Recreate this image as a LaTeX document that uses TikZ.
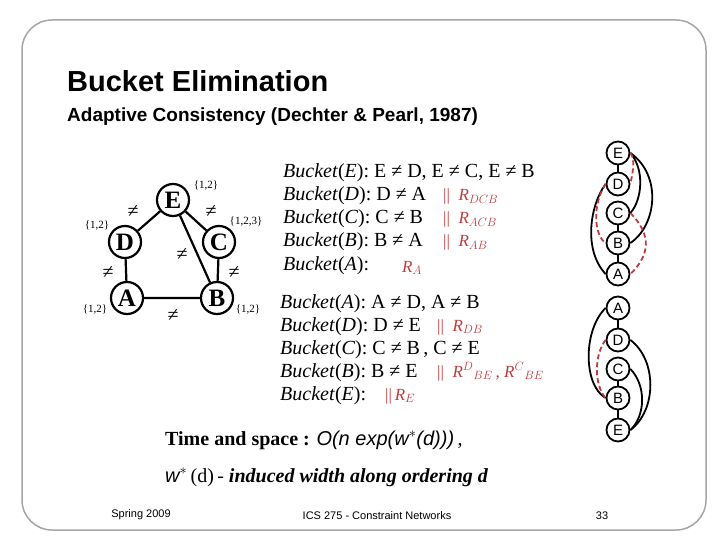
\documentclass[tikz,border=0pt]{standalone}
\usepackage{fontspec}
\setmainfont{Liberation Serif}
\setsansfont{Liberation Sans}
\definecolor{rd}{RGB}{190,60,60}
\newcommand{\bkt}[1]{\textit{Bucket}(\textit{#1}):\ }
\begin{document}
\begin{tikzpicture}[x=1pt,y=-1pt,
  gn/.style={circle,draw,line width=2.2pt,minimum size=32pt,inner sep=0pt,font=\fontsize{25}{25}\selectfont\bfseries},
  cn/.style={circle,draw,line width=1.8pt,minimum size=23pt,inner sep=0pt,font=\sffamily\fontsize{15}{15}\selectfont},
  dom/.style={font=\fontsize{11}{11}\selectfont},
  bk/.style={anchor=base west,font=\fontsize{20}{20}\selectfont,inner sep=0pt},
  rt/.style={anchor=base west,font=\fontsize{17}{17}\selectfont,text=rd,inner sep=0pt},
  ge/.style={line width=2.2pt},
  ce/.style={line width=1.8pt},
  de/.style={line width=1.8pt,rd,dash pattern=on 5pt off 3pt},
  ne/.style={font=\fontsize{20}{20}\selectfont,inner sep=0pt},
  ft/.style={font=\sffamily\fontsize{11}{11}\selectfont}]
\useasboundingbox (0,0) rectangle (720,540);
\draw[gray!70,line width=1.5pt,rounded corners=30pt] (22,20) rectangle (706,530);
\node[anchor=base west,font=\sffamily\bfseries\fontsize{29}{29}\selectfont,inner sep=0pt] (t1) at (67,92) {Bucket Elimination};
\node[anchor=base west,font=\sffamily\bfseries\fontsize{19}{19}\selectfont,inner sep=0pt] (t2) at (67,122) {Adaptive Consistency (Dechter \& Pearl, 1987)};
% graph
\node[gn] (E) at (173,200) {E};
\node[gn] (D) at (125,242) {D};
\node[gn] (C) at (219,242) {C};
\node[gn] (A) at (127,298) {A};
\node[gn] (B) at (217,298) {B};
\draw[ge] (E)--(D) (E)--(C) (E)--(B) (D)--(A) (C)--(B) (A)--(B);
\node[dom] (dE) at (206,186) {\{1,2\}};
\node[dom] (dD) at (97,226) {\{1,2\}};
\node[dom] (dC) at (246,222) {\{1,2,3\}};
\node[dom] (dA) at (95,310) {\{1,2\}};
\node[dom] (dB) at (248,310) {\{1,2\}};
\node[ne] (n1) at (133,212) {≠};
\node[ne] (n2) at (211,212) {≠};
\node[ne] (n3) at (182,255) {≠};
\node[ne] (n4) at (108,273) {≠};
\node[ne] (n5) at (234,273) {≠};
\node[ne] (n6) at (173,316) {≠};
% bucket block 1
\node[bk] (b1) at (283,178) {\bkt{E}E ≠ D,\ E ≠ C,\ E ≠ B};
\node[bk] (b2) at (283,201) {\bkt{D}D ≠ A};
\node[bk] (b3) at (283,224) {\bkt{C}C ≠ B};
\node[bk] (b4) at (283,247) {\bkt{B}B ≠ A};
\node[bk] (b5) at (283,270) {\bkt{A}};
\node[rt] (r2) at (443,201) {||\ \ \textit{R$_{DCB}$}};
\node[rt] (r3) at (443,224) {||\ \ \textit{R$_{ACB}$}};
\node[rt] (r4) at (443,247) {||\ \ \textit{R$_{AB}$}};
\node[rt] (r5) at (402,272) {\textit{R$_{A}$}};
% bucket block 2
\node[bk] (c1) at (280,308) {\bkt{A}A ≠ D,\ A ≠ B};
\node[bk] (c2) at (280,331) {\bkt{D}D ≠ E};
\node[bk] (c3) at (280,354) {\bkt{C}C ≠ B\,,\ C ≠ E};
\node[bk] (c4) at (280,377) {\bkt{B}B ≠ E};
\node[bk] (c5) at (280,400) {\bkt{E}};
\node[rt] (s2) at (437,331) {||\ \ \textit{R$_{DB}$}};
\node[rt] (s4) at (437,377) {||\ \ \textit{R$^{D}{}_{BE}$\,, R$^{C}{}_{BE}$}};
\node[rt] (s5) at (385,400) {||\,\textit{R$_{E}$}};
% bottom text
\node[anchor=base west,inner sep=0pt,font=\fontsize{20}{20}\selectfont] (ts) at (165,445) {\textbf{Time and space :} {\sffamily\itshape O(n exp(w$^{*}$(d)))}\,,};
\node[anchor=base west,inner sep=0pt,font=\fontsize{20}{20}\selectfont] (wd) at (165,482) {{\sffamily\itshape w$^{*}$}\,(d)\,-\ \textbf{\itshape induced width along ordering d}};
% chain 1
\node[cn] (uE) at (618,153) {E};
\node[cn] (uD) at (618,184) {D};
\node[cn] (uC) at (618,213) {C};
\node[cn] (uB) at (618,243) {B};
\node[cn] (uA) at (618,274) {A};
\draw[ce] (uE)--(uD) (uC)--(uB) (uB)--(uA);
\draw[ce] (uE.east) .. controls (645,170) and (642,200) .. (uC.east);
\draw[ce] (uE.east) .. controls (662,175) and (657,225) .. (uB.east);
\draw[ce] (uD.west) .. controls (590,205) and (583,250) .. (uA.west);
\draw[de] (uE.east) .. controls (636,160) and (632,175) .. (uD.east);
\draw[de] (uD.west) .. controls (592,205) and (594,235) .. (uB.west);
\draw[de] (uC.east) .. controls (652,235) and (650,255) .. (uA.east);
% chain 2
\node[cn] (vA) at (618,308) {A};
\node[cn] (vD) at (618,340) {D};
\node[cn] (vC) at (618,369) {C};
\node[cn] (vB) at (618,398) {B};
\node[cn] (vE) at (618,430) {E};
\draw[ce] (vA)--(vD) (vC)--(vB) (vB)--(vE);
\draw[ce] (vA.west) .. controls (583,330) and (583,385) .. (vB.west);
\draw[ce] (vD.east) .. controls (657,360) and (657,410) .. (vE.east);
\draw[ce] (vC.east) .. controls (646,385) and (646,415) .. (vE.east);
\draw[de] (vD.west) .. controls (594,355) and (594,385) .. (vB.west);
% footer
\node[ft] (f1) at (141,515) {Spring 2009};
\node[ft] (f2) at (377,516) {ICS 275 - Constraint Networks};
\node[ft] (f3) at (602,516) {33};
\end{tikzpicture}
\end{document}
